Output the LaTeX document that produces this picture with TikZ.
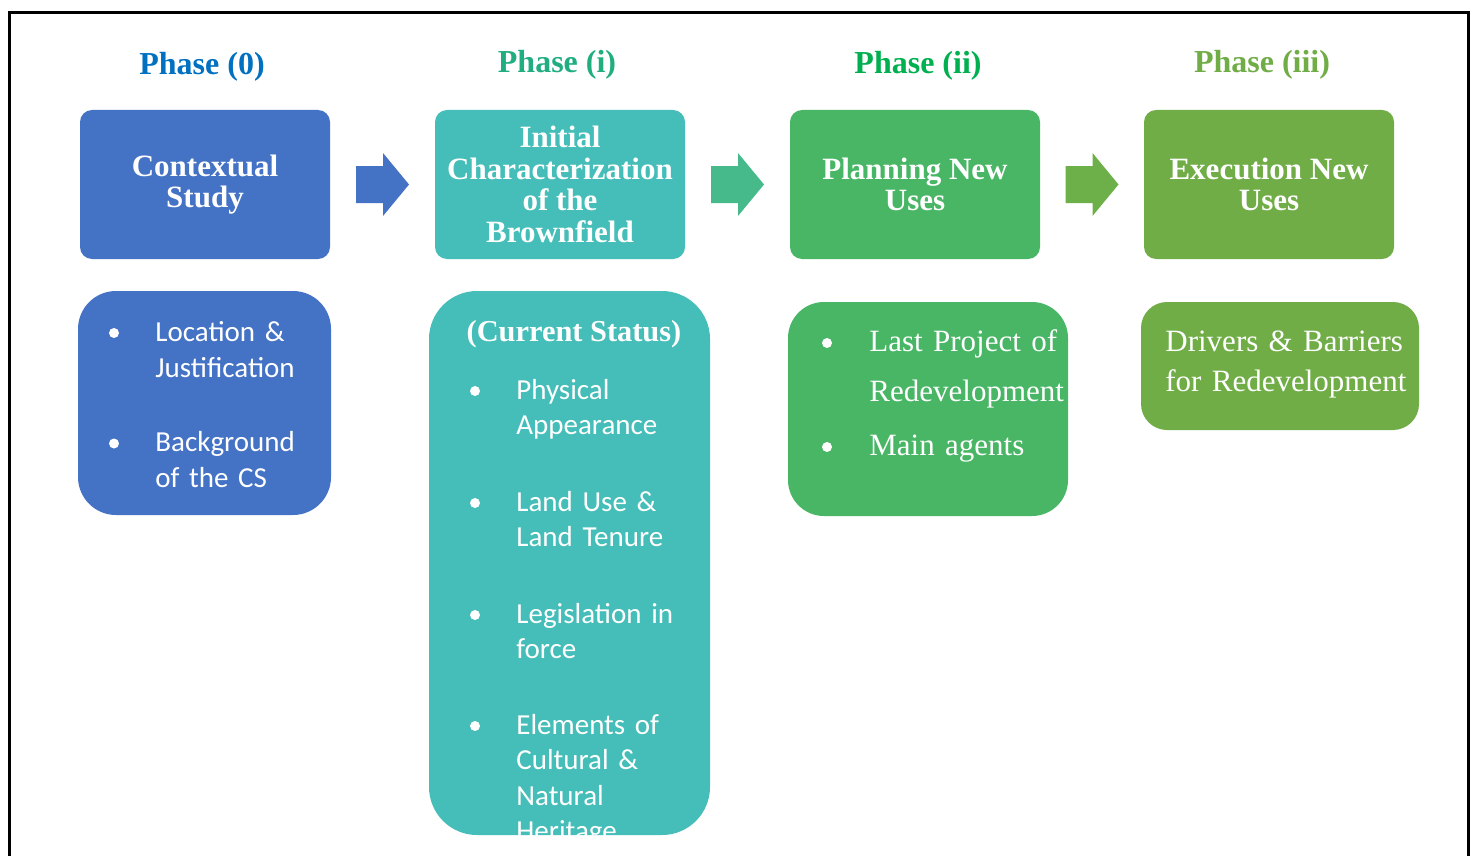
\documentclass[tikz,border=0pt]{standalone}
\usepackage{fontspec}
\setmainfont{Liberation Serif}
\newfontfamily\calib{Carlito}
\usetikzlibrary{calc,positioning}

\definecolor{cblue}{HTML}{4472C4}
\definecolor{cteal}{HTML}{45BDB8}
\definecolor{cgreen}{HTML}{48B665}
\definecolor{clime}{HTML}{70AD47}
\definecolor{arteal}{HTML}{46BA8A}
\definecolor{arlime}{HTML}{6DB04A}
\definecolor{hblue}{HTML}{0070C0}
\definecolor{hteal}{HTML}{20AE80}
\definecolor{hgreen}{HTML}{00B050}

\tikzset{
    phase/.style={font=\bfseries\fontsize{16}{19}\selectfont, anchor=base},
    head/.style={rounded corners=6pt, minimum width=125pt, minimum height=74.5pt,
        text=white, align=center, inner sep=0pt,
        font=\bfseries\fontsize{15.5}{15.75}\selectfont},
    card/.style={inner sep=0pt},
    entry/.style={font=\calib\fontsize{14.5}{17.75}\selectfont, text=white,
        anchor=base west, inner sep=0pt, text width=130pt, align=left},
    sentry/.style={entry, font=\rmfamily\fontsize{15.5}{25}\selectfont},
    dot/.style={circle, fill=white, minimum size=5pt, inner sep=0pt}
}

% block arrow centred on a coordinate
\newcommand{\blockarrow}[2]{%
    \fill[#1] ($(#2)+(-26.5,-18.5)$) -- ++(27,0) -- ++(0,-13) -- ++(26,31.5)
        -- ++(-26,31.5) -- ++(0,-13) -- ++(-27,0) -- cycle;}

\begin{document}
\begin{tikzpicture}[x=0.5pt, y=-0.5pt]
    \useasboundingbox (0,0) rectangle (1476,856);
    \draw[line width=1.5pt] (9.5,856) -- (9.5,12.8) -- (1468.5,12.8) -- (1468.5,856);

    % phase titles
    \node[phase, text=hblue] (p0) at (202,74.5) {Phase (0)};
    \node[phase, text=hteal] (p1) at (557,72.5) {Phase (i)};
    \node[phase, text=hgreen] (p2) at (918,73.5) {Phase (ii)};
    \node[phase, text=clime] (p3) at (1262,73) {Phase (iii)};

    % top boxes
    \node[head, fill=cblue] (ctx) at (205,184.5) {Contextual\\Study};
    \node[head, fill=cteal] (ini) at (560,184.5) {Initial\\Characterization\\of the\\Brownfield};
    \node[head, fill=cgreen] (pla) at (915,184.5) {Planning New\\Uses};
    \node[head, fill=clime] (exe) at (1269,184.5) {Execution New\\Uses};

    \coordinate (a1) at ($(ctx.east)!0.5!(ini.west)$);
    \coordinate (a2) at ($(ini.east)!0.5!(pla.west)$);
    \coordinate (a3) at ($(pla.east)!0.5!(exe.west)$);
    \blockarrow{cblue}{a1}
    \blockarrow{arteal}{a2}
    \blockarrow{arlime}{a3}

    % lower boxes
    \node[card, fill=cblue, rounded corners=19pt, minimum width=126.5pt, minimum height=112pt] (ctxl) at (204.5,403) {};
    \node[card, fill=cteal, rounded corners=24pt, minimum width=140.5pt, minimum height=272pt] (inil) at (569.5,563) {};
    \node[card, fill=cgreen, rounded corners=18pt, minimum width=140pt, minimum height=107pt] (plal) at (928,409) {};
    \node[card, fill=clime, rounded corners=13pt, minimum width=139pt, minimum height=64pt] (exel) at (1280,366) {};

    % phase (0) items
    \node[dot] (d01) at (114,333) {};
    \node[dot] (d02) at (114,443.5) {};
    \node[entry] (t01) at (155,341.7) {Location \&\\Justification};
    \node[entry] (t02) at (155,451.7) {Background\\of the CS};

    % phase (i) items
    \node[sentry, font=\bfseries\fontsize{15.2}{18}\selectfont, anchor=base, text width=, align=center] (cs) at (574,341.7) {(Current Status)};
    \foreach \y [count=\i] in {391,503,615,726}
        \node[dot] (d1\i) at (475,\y) {};
    \node[entry] (t11) at (516,399.3) {Physical\\Appearance};
    \node[entry] (t12) at (516,511) {Land Use \&\\Land Tenure};
    \node[entry] (t13) at (516,623) {Legislation in\\force};
    \begin{scope}
        \clip (429,291) rectangle (710,835);
        \node[entry] (t14) at (516,734) {Elements of\\Cultural \&\\Natural\\Heritage};
    \end{scope}

    % phase (ii) items
    \node[dot] (d21) at (827,343) {};
    \node[dot] (d22) at (827,447) {};
    \node[sentry] (t21) at (869,351.7) {Last Project of\\Redevelopment};
    \node[sentry] (t22) at (869,455) {Main agents};

    % phase (iii) items
    \node[sentry, font=\rmfamily\fontsize{15.5}{20}\selectfont] (t31) at (1165,351.7) {Drivers \& Barriers\\for Redevelopment};
\end{tikzpicture}
\end{document}
